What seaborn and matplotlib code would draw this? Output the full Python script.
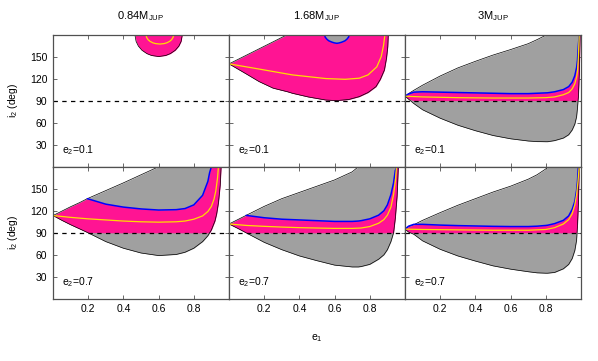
import numpy as np
import matplotlib
matplotlib.use("Agg")
import matplotlib.pyplot as plt
import seaborn as sns

# -----------------------------
# DATA
# -----------------------------

masses = ["0.84", "1.68", "3"]
e2_values = ["0.1", "0.7"]
nan = np.nan

# panel A : 0.84 MJUP, e2=0.1 (only a small stable blob at the top)
e_a = [0.465, 0.472, 0.485, 0.505, 0.533, 0.56, 0.6, 0.64, 0.667, 0.695, 0.715, 0.728, 0.735]
low_a = [180, 170.6, 164.2, 158.6, 154, 151.4, 150, 151.4, 154, 158.6, 164.2, 170.6, 180]
ey_a = [0.528, 0.532, 0.54, 0.551, 0.567, 0.583, 0.607, 0.631, 0.647, 0.663, 0.674, 0.682, 0.687]
y_a = [180, 176, 173, 170.7, 168.7, 167.6, 167, 167.6, 168.7, 170.7, 173, 176, 180]

# panel B : 1.68 MJUP, e2=0.1
e_b = [0, 0.05, 0.1, 0.17, 0.25, 0.333, 0.36, 0.45, 0.55, 0.61, 0.68, 0.74, 0.79, 0.835, 0.86, 0.883, 0.895, 0.902, 0.905]
up_b = [140, 146, 152, 160.4, 170, 180, 180, 180, 180, 180, 180, 180, 180, 180, 180, 180, 180, 180, 180]
low_b = [140, 133, 126, 116, 107, 102, 100, 95, 90.8, 90, 91.5, 95.4, 101, 109, 119, 131.7, 148, 163.5, 180]
eg_b = [0.542, 0.547, 0.556, 0.567, 0.585, 0.6, 0.613, 0.626, 0.641, 0.659, 0.67, 0.679, 0.684]
lowg_b = [180, 176.3, 173.6, 171.4, 169.6, 168.5, 168, 168.5, 169.6, 171.4, 173.6, 176.3, 180]
ey_b = [0, 0.17, 0.36, 0.55, 0.66, 0.74, 0.79, 0.84, 0.865, 0.878, 0.886]
y_b = [140, 133, 125, 120, 119, 120.5, 125, 136, 150, 165, 180]

# panel C : 3 MJUP, e2=0.1
e_c = [0, 0.02, 0.05, 0.1, 0.2, 0.3, 0.4, 0.5, 0.6, 0.7, 0.75, 0.8, 0.81, 0.85, 0.9, 0.93, 0.95, 0.965, 0.975, 0.98, 0.985, 0.99, 0.995]
up_c = [96, 99.5, 104, 111, 123.5, 134.5, 143.5, 152, 159.5, 167.5, 173, 179, 180, 180, 180, 180, 180, 180, 180, 180, 180, 180, 180]
low_c = [96, 92, 86, 77.5, 66, 56.5, 49, 42.5, 38, 35, 34.2, 34, 34, 35.5, 39, 43.5, 50, 58, 68, 80, 95, 125, 180]
blue_c = [96, 99, 101.5, 102, 101.5, 101, 100.5, 100, 99.5, 99.5, 100, 100.5, 100.6, 102, 105, 109, 115, 124, 135, 145, 165, 180, 180]
ey_c = [0, 0.05, 0.1, 0.3, 0.5, 0.7, 0.8, 0.85, 0.9, 0.93, 0.95, 0.965, 0.975, 0.98, 0.985, 0.99]
y_c = [96, 95.5, 95, 94, 93.5, 93.5, 94, 95, 98, 101, 106, 113, 122, 130, 148, 180]

# panel D : 0.84 MJUP, e2=0.7
e_d = [0, 0.05, 0.1, 0.15, 0.195, 0.3, 0.4, 0.5, 0.6, 0.7, 0.75, 0.8, 0.85, 0.88, 0.89, 0.9, 0.92, 0.93, 0.94, 0.95, 0.955]
up_d = [113.5, 119.5, 125.5, 131, 136.5, 147.5, 158, 169, 180, 180, 180, 180, 180, 180, 180, 180, 180, 180, 180, 180, 180]
low_d = [113.5, 107, 101, 95.5, 90.5, 78, 69, 62.5, 59, 60.5, 63.5, 69, 78, 86, 90, 94, 106, 116, 131, 155, 180]
blue_d = [nan, nan, nan, nan, 136.5, 129, 125, 122.5, 121, 121.5, 123, 128, 141, 160, 172, 180, 180, 180, 180, 180, 180]
ey_d = [0, 0.1, 0.2, 0.3, 0.4, 0.5, 0.6, 0.7, 0.75, 0.8, 0.85, 0.88, 0.9, 0.915, 0.925, 0.935, 0.94]
y_d = [113.5, 111, 109, 107.5, 106, 105, 104.5, 105, 106, 108.5, 113, 119, 126, 136, 147, 165, 180]

# panel E : 1.68 MJUP, e2=0.7
e_e = [0, 0.05, 0.097, 0.2, 0.3, 0.4, 0.5, 0.6, 0.7, 0.735, 0.75, 0.8, 0.85, 0.88, 0.9, 0.92, 0.935, 0.945, 0.955, 0.962]
up_e = [102, 108, 113.7, 126, 136.5, 145, 153.5, 162, 173, 180, 180, 180, 180, 180, 180, 180, 180, 180, 180, 180]
low_e = [102, 96, 90, 77, 67, 58.5, 52, 46, 43.5, 43.5, 44, 47, 54, 60, 67, 78, 90, 110, 140, 180]
blue_e = [nan, nan, 113.7, 110.5, 108.5, 107.5, 106.5, 105.5, 105.5, 106, 106.5, 109, 114, 120, 128, 142, 158, 175, 180, 180]
ey_e = [0, 0.1, 0.2, 0.3, 0.4, 0.5, 0.6, 0.7, 0.75, 0.8, 0.85, 0.88, 0.9, 0.92, 0.935, 0.945, 0.952]
y_e = [102, 100, 98.8, 97.8, 97, 96.5, 96, 96, 96.5, 98.5, 103, 108, 114, 125, 142, 160, 180]

# panel F : 3 MJUP, e2=0.7
e_f = [0, 0.02, 0.05, 0.1, 0.2, 0.3, 0.4, 0.5, 0.6, 0.7, 0.75, 0.8, 0.81, 0.85, 0.9, 0.93, 0.95, 0.965, 0.975, 0.98, 0.985, 0.99]
up_f = [95, 98.5, 101, 107, 117.5, 127.5, 136.5, 145.5, 153.5, 163, 169, 177, 180, 180, 180, 180, 180, 180, 180, 180, 180, 180]
low_f = [95, 91, 88, 79, 67.5, 58.5, 51.5, 45, 40.5, 37, 35.5, 35, 35, 36, 41, 47, 55, 66, 80, 100, 130, 180]
blue_f = [95, 99, 101.5, 101.5, 100.5, 99.8, 99.3, 98.8, 98.5, 98.5, 99, 100, 100.3, 102.5, 107, 113, 122, 133, 148, 160, 180, 180]
ey_f = [0, 0.1, 0.3, 0.5, 0.7, 0.8, 0.85, 0.9, 0.93, 0.95, 0.965, 0.975, 0.983, 0.988, 0.99]
y_f = [95, 94.5, 94, 93.5, 93.5, 94.5, 97, 102, 108, 116, 128, 142, 160, 175, 180]

x_ticks = [0.2, 0.4, 0.6, 0.8]
y_ticks = [30, 60, 90, 120, 150]

# -----------------------------
# STYLE
# -----------------------------

sns.set_style("ticks")
plt.rcParams["font.family"] = ["Liberation Sans", "DejaVu Sans"]
plt.rcParams["mathtext.fontset"] = "custom"
plt.rcParams["mathtext.rm"] = "Liberation Sans"
plt.rcParams["mathtext.it"] = "Liberation Sans"
plt.rcParams["text.color"] = "black"
plt.rcParams["axes.labelcolor"] = "black"
plt.rcParams["xtick.labelcolor"] = "black"
plt.rcParams["ytick.labelcolor"] = "black"

GRAY = "#a0a0a0"
PINK = "#ff1493"
BLUE = "#0000ff"
YELLOW = "#ffdc00"
EDGE = "#505050"

fig = plt.figure(figsize=(5.98, 3.61), dpi=100)

W, H = 598, 361
left, pw = 53, 176
tops = [34.5, 166.7]
ph = 132.2

axes = {}
for r in range(2):
    for c in range(3):
        ax = fig.add_axes([(left + c * pw) / W, 1 - (tops[r] + ph) / H, pw / W, ph / H])
        axes[(r, c)] = ax


def draw_envelope(ax, e, up, low, blue=None):
    e = np.array(e)
    up = np.array(up, dtype=float)
    low = np.array(low, dtype=float)
    ax.fill_between(e, low, up, color=GRAY, lw=0)
    if blue is not None:
        blue = np.array(blue, dtype=float)
        top = np.fmin(up, blue)
    else:
        top = up
    ax.fill_between(e, np.maximum(90, low), top, where=top >= 90,
                    color=PINK, lw=0)
    ax.plot(e, low, color="black", lw=0.5)
    ax.plot(e, up, color="black", lw=0.5)
    if blue is not None:
        sns.lineplot(x=e, y=blue, ax=ax, color=BLUE, lw=1.1,
                     sort=False, estimator=None)


# panel A
ax = axes[(0, 0)]
ax.fill_between(e_a, low_a, 180, color=PINK, lw=0)
ax.plot(e_a, low_a, color="black", lw=0.5)
sns.lineplot(x=ey_a, y=y_a, ax=ax, color=YELLOW, lw=0.9, sort=False, estimator=None)

# panel B
ax = axes[(0, 1)]
draw_envelope(ax, e_b, up_b, low_b)
ax.fill_between(eg_b, lowg_b, 180, color=GRAY, lw=0)
sns.lineplot(x=eg_b, y=lowg_b, ax=ax, color=BLUE, lw=1.1, sort=False, estimator=None)
sns.lineplot(x=ey_b, y=y_b, ax=ax, color=YELLOW, lw=0.9, sort=False, estimator=None)

# panel C
ax = axes[(0, 2)]
draw_envelope(ax, e_c, up_c, low_c, blue_c)
sns.lineplot(x=ey_c, y=y_c, ax=ax, color=YELLOW, lw=0.9, sort=False, estimator=None)

# panel D
ax = axes[(1, 0)]
draw_envelope(ax, e_d, up_d, low_d, blue_d)
sns.lineplot(x=ey_d, y=y_d, ax=ax, color=YELLOW, lw=0.9, sort=False, estimator=None)

# panel E
ax = axes[(1, 1)]
draw_envelope(ax, e_e, up_e, low_e, blue_e)
sns.lineplot(x=ey_e, y=y_e, ax=ax, color=YELLOW, lw=0.9, sort=False, estimator=None)

# panel F
ax = axes[(1, 2)]
draw_envelope(ax, e_f, up_f, low_f, blue_f)
sns.lineplot(x=ey_f, y=y_f, ax=ax, color=YELLOW, lw=0.9, sort=False, estimator=None)

# -----------------------------
# AXES DECORATION
# -----------------------------

for (r, c), ax in axes.items():
    ax.axhline(90, color="black", lw=0.9, ls=(0, (3.5, 3.5)), zorder=5)
    ax.set_xlim(0, 1)
    ax.set_ylim(0, 180)
    ax.set_xticks(x_ticks)
    ax.set_yticks(y_ticks)
    ax.tick_params(direction="in", top=True, right=True, length=3,
                   width=0.6, color=EDGE, labelsize=7.5, pad=4)
    for s in ax.spines.values():
        s.set_color(EDGE)
        s.set_linewidth(0.9)
        s.set_zorder(6)
    if r == 0:
        ax.set_xticklabels([])
    if c != 0:
        ax.set_yticklabels([])
    else:
        ax.set_ylabel("i$_2$ (deg)", fontsize=7.5)
        ax.yaxis.set_label_coords(-0.19, 0.5)
    ax.set_xlabel("")
    ax.text(0.05, 0.125, "e$_2$=" + e2_values[r], transform=ax.transAxes,
            fontsize=7.5, ha="left", va="center")

for c, m in enumerate(masses):
    fig.text((left + (c + 0.5) * pw) / W, 1 - 16 / H, m + "M$_{\\rm JUP}$",
             ha="center", va="center", fontsize=8)

fig.text(317 / W, 1 - 338 / H, "e$_1$", ha="center", va="center", fontsize=7.5)

fig.savefig("out.png", dpi=100)
